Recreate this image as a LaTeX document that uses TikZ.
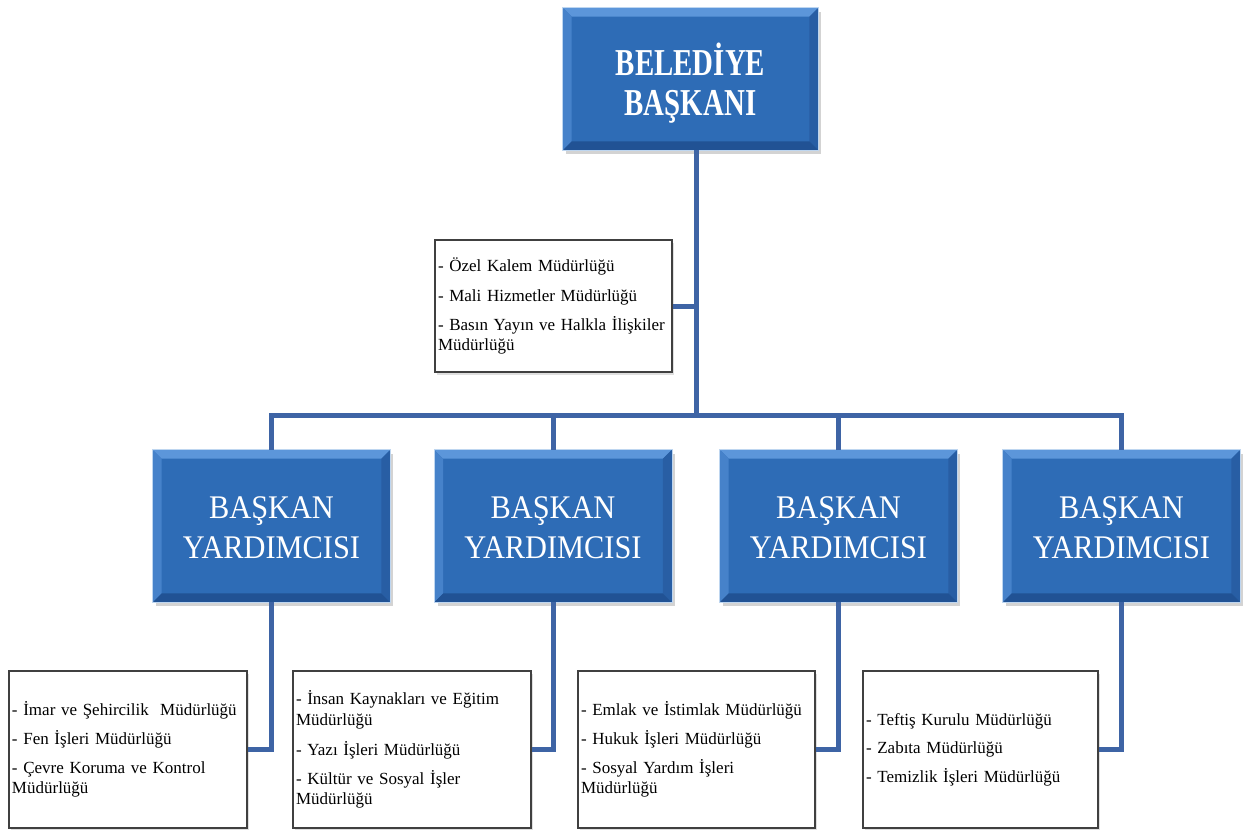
\documentclass[tikz,border=0pt]{standalone}
\usepackage{fontspec}
\setmainfont{Liberation Serif}
\newfontfamily\topfont[FakeStretch=0.76]{Liberation Serif}
\newfontfamily\midfont[FakeStretch=0.92]{Liberation Serif}
\usetikzlibrary{calc,shadows}
\definecolor{bmain}{RGB}{46,108,182}
\definecolor{btop}{RGB}{92,150,218}
\definecolor{bleft}{RGB}{70,130,202}
\definecolor{bright}{RGB}{40,94,164}
\definecolor{bbot}{RGB}{33,82,148}
\definecolor{bedge}{RGB}{190,214,240}
\definecolor{conncol}{RGB}{62,100,165}
\tikzset{
  bluebox/.style={rectangle, fill=bmain, draw=bedge, line width=0.8pt, text=white,
    align=center, inner sep=0pt, minimum height=152pt, minimum width=237pt,
    drop shadow={opacity=0.35, shadow xshift=3pt, shadow yshift=-4pt}},
  whitebox/.style={rectangle, fill=white, draw=black!75, line width=2.4pt,
    align=left, inner sep=3pt, minimum height=157pt,
    font=\fontsize{17}{20.5}\selectfont,
    drop shadow={opacity=0.25, shadow xshift=2pt, shadow yshift=-3pt}},
  conn/.style={draw=conncol, line width=5pt}
}
\newcommand{\bevelbox}[1]{%
  \fill[btop] (#1.north west) -- (#1.north east) -- ($(#1.north east)+(-9,9)$) -- ($(#1.north west)+(9,9)$) -- cycle;
  \fill[bleft] (#1.north west) -- ($(#1.north west)+(9,9)$) -- ($(#1.south west)+(9,-9)$) -- (#1.south west) -- cycle;
  \fill[bright] (#1.north east) -- ($(#1.north east)+(-9,9)$) -- ($(#1.south east)+(-9,-9)$) -- (#1.south east) -- cycle;
  \fill[bbot] (#1.south west) -- ($(#1.south west)+(9,-9)$) -- ($(#1.south east)+(-9,-9)$) -- (#1.south east) -- cycle;
  \draw[bedge, line width=0.8pt] (#1.north west) rectangle (#1.south east);
}
\begin{document}
\begin{tikzpicture}[x=1pt,y=-1pt]
\useasboundingbox (0,0) rectangle (1251,830);
\coordinate (hub) at (696,415);

% boxes
\node[bluebox, minimum width=255pt, minimum height=142pt] (top) at (690.5,79) {};
\node[bluebox] (b1) at (271.5,526) {};
\node[bluebox] (b2) at (553,526) {};
\node[bluebox] (b3) at (838.5,526) {};
\node[bluebox] (b4) at (1121.5,526) {};
\bevelbox{top}\bevelbox{b1}\bevelbox{b2}\bevelbox{b3}\bevelbox{b4}

\node[text=white, align=center, font=\topfont\bfseries\fontsize{38}{40}\selectfont] (toptext) at ($(top.center)+(0,4)$) {BELEDİYE\\BAŞKANI};
\foreach \b in {b1,b2,b3,b4}{
  \node[text=white, align=center, font=\midfont\fontsize{33}{40}\selectfont] (\b t) at ($(\b.center)+(0,2)$) {BAŞKAN\\YARDIMCISI};
}

\node[whitebox, minimum height=132pt, text width=231pt] (oz) at (553.5,306)
  {- Özel Kalem Müdürlüğü\\[10pt]- Mali Hizmetler Müdürlüğü\\[8pt]- Basın Yayın ve Halkla İlişkiler\\Müdürlüğü};
\node[whitebox, text width=232pt] (w1) at (128,749.5)
  {- İmar ve Şehircilik\ \ Müdürlüğü\\[9pt]- Fen İşleri Müdürlüğü\\[8pt]- Çevre Koruma ve Kontrol\\Müdürlüğü};
\node[whitebox, text width=232pt] (w2) at (412,749.5)
  {- İnsan Kaynakları ve Eğitim\\Müdürlüğü\\[10pt]- Yazı İşleri Müdürlüğü\\[8pt]- Kültür ve Sosyal İşler\\Müdürlüğü};
\node[whitebox, text width=231pt] (w3) at (696.5,749.5)
  {- Emlak ve İstimlak Müdürlüğü\\[9pt]- Hukuk İşleri Müdürlüğü\\[8pt]- Sosyal Yardım İşleri\\Müdürlüğü};
\node[whitebox, text width=229pt] (w4) at (980.5,749.5)
  {- Teftiş Kurulu Müdürlüğü\\[8pt]- Zabıta Müdürlüğü\\[8pt]- Temizlik İşleri Müdürlüğü};

% connectors
\draw[conn] (top.south -| hub) -- (hub);
\draw[conn] (b1.north) |- (b4.north |- hub) -- (b4.north);
\draw[conn] (b2.north) -- (b2.north |- hub);
\draw[conn] (b3.north) -- (b3.north |- hub);
\draw[conn] (oz.east) -- (oz.east -| hub);
\draw[conn] (b1.south) |- (w1.east);
\draw[conn] (b2.south) |- (w2.east);
\draw[conn] (b3.south) |- (w3.east);
\draw[conn] (b4.south) |- (w4.east);
\end{tikzpicture}
\end{document}
